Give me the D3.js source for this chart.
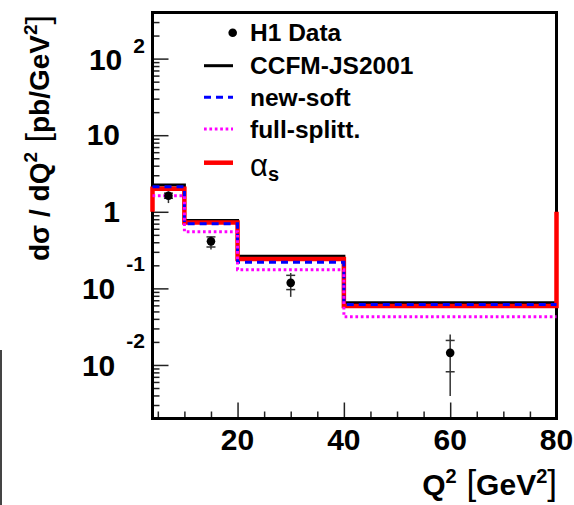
<!DOCTYPE html>
<meta charset="utf-8">
<style>
  body { margin: 0; background: #fff; }
  svg text { font-family: "Liberation Sans", Arial, Helvetica, sans-serif; font-weight: bold; fill: #000; }
</style>
<body>
<div id="chart"></div>
<script src="https://d3js.org/d3.v7.min.js"></script>
<script>
  // Q^2 bin edges [GeV^2]
  var binEdges = [4, 10, 20, 40, 80];

  // model predictions, one value per bin [pb/GeV^2]
  var ccfm = [2.24, 0.772, 0.262, 0.0647];
  var newSoft = [2.12, 0.70, 0.219, 0.0615];
  var fullSplitt = [1.62, 0.55, 0.175, 0.0425];
  var alphaS = [2.0, 0.727, 0.242, 0.0588];

  // H1 data points
  var dataQ2 = [7, 15, 30, 60];
  var dataXsec = [1.62, 0.411, 0.118, 0.0144];
  var statUp = [1.75, 0.47, 0.148, 0.0209];
  var statDown = [1.50, 0.347, 0.0964, 0.00815];
  var totUp = [1.85, 0.478, 0.159, 0.0249];
  var totDown = [1.30, 0.321, 0.0775, 0.00392];

  // axis ticks
  var xMajor = [20, 40, 60, 80];
  var xMinor = [5, 10, 15, 25, 30, 35, 45, 50, 55, 65, 70, 75];
  var yMajor = [0.01, 0.1, 1, 10, 100];
  var yLabelBase = ["10", "10", "1", "10", "10"];
  var yLabelExp = ["-2", "-1", "", "", "2"];

  var legendNames = ["H1 Data", "CCFM-JS2001", "new-soft", "full-splitt.", "α"];

  var W = 574, H = 505;
  var frame = {left: 152.5, right: 556.5, top: 12.5, bottom: 418.5};

  var svg = d3.select("#chart").append("svg")
    .attr("width", W)
    .attr("height", H);

  // stray edge of a neighbouring figure in the scan
  svg.append("rect")
    .attr("x", 0).attr("y", 350).attr("width", 2).attr("height", 155)
    .attr("fill", "#444");

  var x = d3.scaleLinear()
    .domain([4, 80])
    .range([frame.left, frame.right]);

  var y = d3.scaleLog()
    .domain([0.002, 400])
    .range([frame.bottom, frame.top]);

  var yMinor = [];
  [0.001, 0.01, 0.1, 1, 10, 100].forEach(function (dec) {
    for (var k = 2; k <= 9; k++) {
      var v = dec * k;
      if (v >= 0.002 && v <= 400) yMinor.push(v);
    }
  });

  // ticks (inside the frame, only left and bottom)
  function tickStyle(g) {
    g.select(".domain").remove();
    g.selectAll(".tick line").attr("stroke", "#222").attr("stroke-width", 1.5);
    g.selectAll(".tick text").remove();
  }

  svg.append("g")
    .attr("transform", "translate(" + frame.left + ",0)")
    .call(d3.axisLeft(y).tickValues(yMinor).tickSize(-7))
    .call(tickStyle);
  svg.append("g")
    .attr("transform", "translate(" + frame.left + ",0)")
    .call(d3.axisLeft(y).tickValues(yMajor).tickSize(-16))
    .call(tickStyle);
  svg.append("g")
    .attr("transform", "translate(0," + frame.bottom + ")")
    .call(d3.axisBottom(x).tickValues(xMinor).tickSize(-7))
    .call(tickStyle);
  svg.append("g")
    .attr("transform", "translate(0," + frame.bottom + ")")
    .call(d3.axisBottom(x).tickValues(xMajor).tickSize(-16))
    .call(tickStyle);

  // frame
  svg.append("rect")
    .attr("x", frame.left).attr("y", frame.top)
    .attr("width", frame.right - frame.left)
    .attr("height", frame.bottom - frame.top)
    .attr("fill", "none")
    .attr("stroke", "#000")
    .attr("stroke-width", 3);

  // x tick labels
  svg.append("g").selectAll("text")
    .data(xMajor)
    .enter().append("text")
    .attr("x", function (d) { return x(d); })
    .attr("y", 450)
    .attr("text-anchor", "middle")
    .style("font-size", "30px")
    .text(function (d) { return d; });

  // y tick labels (10^n style)
  var yl = svg.append("g");
  yMajor.forEach(function (v, i) {
    var ty = y(v);
    if (yLabelExp[i] === "") {
      yl.append("text")
        .attr("x", 120).attr("y", ty + 10)
        .attr("text-anchor", "end")
        .style("font-size", "30px")
        .text(yLabelBase[i]);
    } else {
      var neg = yLabelExp[i].charAt(0) === "-";
      var ex = yl.append("text")
        .attr("x", 145).attr("y", ty + (neg ? -17 : -6))
        .attr("text-anchor", "end")
        .style("font-size", "21px")
        .text(yLabelExp[i]);
      var w = ex.node().getComputedTextLength();
      yl.append("text")
        .attr("x", 145 - w - 11).attr("y", ty + 11)
        .attr("text-anchor", "end")
        .style("font-size", "30px")
        .text(yLabelBase[i]);
    }
  });

  // histograms
  var series = [
    {values: ccfm, color: "#000", width: 3, dash: null, base: null},
    {values: alphaS, color: "#ff0000", width: 4.5, dash: null, base: 1},
    {values: newSoft, color: "#0000ff", width: 3, dash: "7,5", base: null},
    {values: fullSplitt, color: "#ff00ff", width: 3, dash: "2.7,2.7", base: null}
  ];

  function stepPoints(s) {
    var pts = [];
    if (s.base !== null) pts.push([binEdges[0], s.base]);
    s.values.forEach(function (v, i) {
      pts.push([binEdges[i], v]);
      pts.push([binEdges[i + 1], v]);
    });
    if (s.base !== null) pts.push([binEdges[binEdges.length - 1], s.base]);
    return pts;
  }

  var line = d3.line()
    .x(function (d) { return x(d[0]); })
    .y(function (d) { return y(d[1]); });

  svg.append("g").selectAll("path")
    .data(series)
    .enter().append("path")
    .attr("d", function (d) { return line(stepPoints(d)); })
    .attr("fill", "none")
    .attr("stroke", function (d) { return d.color; })
    .attr("stroke-width", function (d) { return d.width; })
    .attr("stroke-dasharray", function (d) { return d.dash; })
    .attr("stroke-linejoin", "miter");

  // data points with stat (ticked) and total errors
  var pts = svg.append("g").selectAll("g")
    .data(dataQ2.map(function (q, i) { return i; }))
    .enter().append("g");

  pts.append("line")
    .attr("x1", function (i) { return x(dataQ2[i]); })
    .attr("x2", function (i) { return x(dataQ2[i]); })
    .attr("y1", function (i) { return y(totUp[i]); })
    .attr("y2", function (i) { return y(totDown[i]); })
    .attr("stroke", "#333").attr("stroke-width", 1.5);

  [statUp, statDown].forEach(function (arr) {
    pts.append("line")
      .attr("x1", function (i) { return x(dataQ2[i]) - 4.5; })
      .attr("x2", function (i) { return x(dataQ2[i]) + 4.5; })
      .attr("y1", function (i) { return y(arr[i]); })
      .attr("y2", function (i) { return y(arr[i]); })
      .attr("stroke", "#333").attr("stroke-width", 1.5);
  });

  pts.append("circle")
    .attr("cx", function (i) { return x(dataQ2[i]); })
    .attr("cy", function (i) { return y(dataXsec[i]); })
    .attr("r", 4.3)
    .attr("fill", "#000");

  // legend: row 0 is the data marker, rows 1-4 the histograms
  var legY = [32.7, 65.7, 97.3, 129, 162.7];
  var legSeries = [null, series[0], series[2], series[3], series[1]];
  var leg = svg.append("g");
  leg.append("circle")
    .attr("cx", 232.7).attr("cy", legY[0]).attr("r", 4.3).attr("fill", "#000");
  legSeries.forEach(function (s, row) {
    if (!s) return;
    leg.append("line")
      .attr("x1", 204).attr("x2", 233)
      .attr("y1", legY[row]).attr("y2", legY[row])
      .attr("stroke", s.color)
      .attr("stroke-width", s.width)
      .attr("stroke-dasharray", s.dash);
  });
  legendNames.forEach(function (name, i) {
    var t = leg.append("text")
      .attr("x", 250)
      .attr("y", legY[i] + (i === 4 ? 13 : 8.5))
      .style("font-size", "24.5px");
    if (i === 4) {
      t.append("tspan").style("font-weight", "normal").style("font-size", "31px").text(name);
      t.append("tspan").attr("dy", 5).style("font-size", "20px").text("s");
    } else {
      t.text(name);
    }
  });

  // x axis title
  var xt = svg.append("text")
    .attr("x", 557).attr("y", 495)
    .attr("text-anchor", "end")
    .style("font-size", "30px");
  xt.append("tspan").text("Q");
  xt.append("tspan").attr("dy", -12).style("font-size", "20px").text("2");
  xt.append("tspan").attr("dy", 12).style("font-weight", "normal").style("font-size", "35px").text(" [");
  xt.append("tspan").text("GeV");
  xt.append("tspan").attr("dy", -12).style("font-size", "20px").text("2");
  xt.append("tspan").attr("dy", 12).style("font-weight", "normal").style("font-size", "35px").text("]");

  // y axis title
  var yt = svg.append("text")
    .attr("transform", "translate(49,15) rotate(-90)")
    .attr("text-anchor", "end")
    .style("font-size", "28px");
  yt.append("tspan").text("dσ / dQ");
  yt.append("tspan").attr("dy", -12).style("font-size", "19px").text("2");
  yt.append("tspan").attr("dy", 12).style("font-weight", "normal").style("font-size", "34px").text(" [");
  yt.append("tspan").text("pb/GeV");
  yt.append("tspan").attr("dy", -12).style("font-size", "19px").text("2");
  yt.append("tspan").attr("dy", 12).style("font-weight", "normal").style("font-size", "34px").text("]");
</script>
</body>
